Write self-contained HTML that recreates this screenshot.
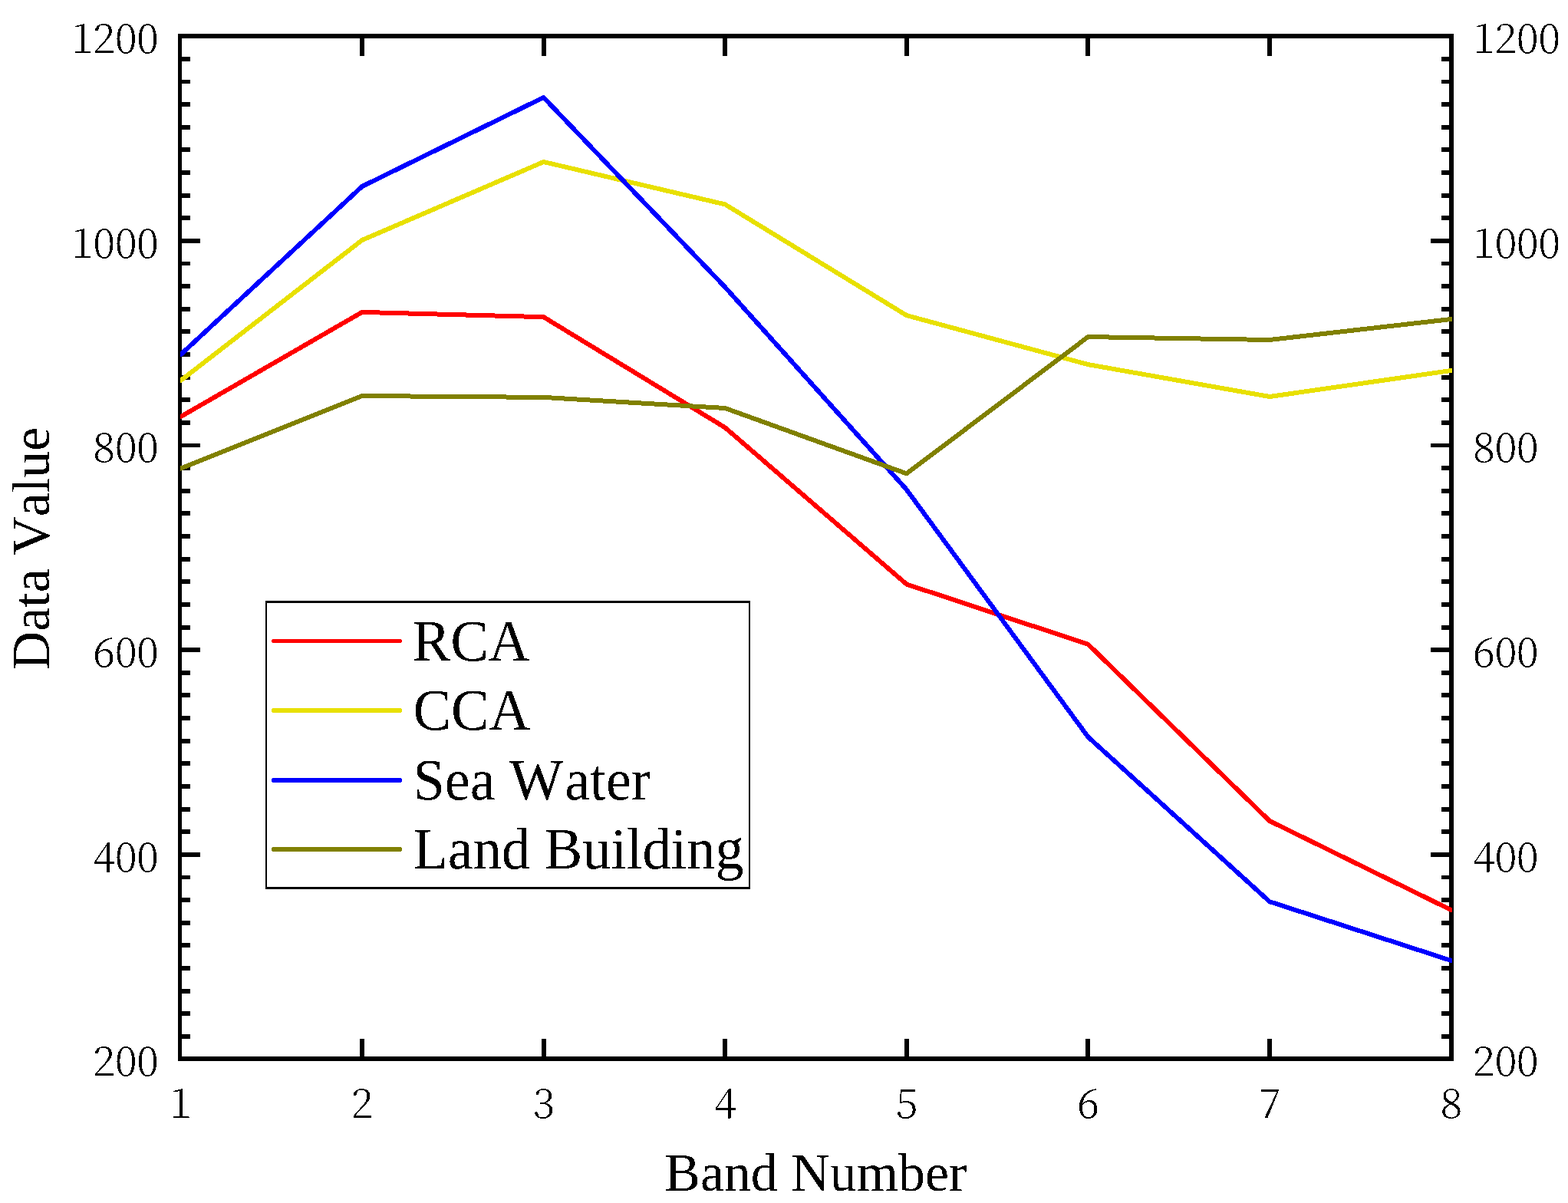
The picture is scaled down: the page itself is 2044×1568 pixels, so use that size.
<!DOCTYPE html>
<html lang="en"><head><meta charset="utf-8"><title>Spectral curves: Data Value vs Band Number</title>
<style>
html,body{margin:0;padding:0;background:#fff;}
body{width:2044px;height:1568px;}
svg{display:block;}
.ax{fill:#000;shape-rendering:crispEdges;}
.ser{fill:none;stroke-width:6;stroke-linejoin:round;stroke-linecap:round;shape-rendering:crispEdges;}
.tl{font-family:"Noto Serif CJK SC","Liberation Serif",serif;font-weight:300;font-size:53.4px;letter-spacing:-0.5px;fill:#000;}
.ttl{font-family:"Liberation Serif","Times New Roman",serif;font-size:70.4px;font-kerning:none;fill:#000;}
.lg{font-family:"Liberation Serif","Times New Roman",serif;font-size:76.5px;font-kerning:none;fill:#000;}
.lgl{shape-rendering:crispEdges;}
</style></head><body>
<svg width="2044" height="1568" viewBox="0 0 2044 1568">
<rect x="0" y="0" width="2044" height="1568" fill="#fff"/>
<g class="ax">
<rect x="232" y="44" width="5" height="1339"/>
<rect x="1889" y="44" width="6" height="1339"/>
<rect x="232" y="44" width="1663" height="6"/>
<rect x="232" y="1377" width="1663" height="6"/>
<rect x="237" y="74" width="11" height="6"/>
<rect x="1879" y="74" width="10" height="6"/>
<rect x="237" y="104" width="11" height="5"/>
<rect x="1879" y="104" width="10" height="5"/>
<rect x="237" y="133" width="11" height="6"/>
<rect x="1879" y="133" width="10" height="6"/>
<rect x="237" y="163" width="11" height="6"/>
<rect x="1879" y="163" width="10" height="6"/>
<rect x="237" y="192" width="11" height="6"/>
<rect x="1879" y="192" width="10" height="6"/>
<rect x="237" y="222" width="11" height="6"/>
<rect x="1879" y="222" width="10" height="6"/>
<rect x="237" y="252" width="11" height="6"/>
<rect x="1879" y="252" width="10" height="6"/>
<rect x="237" y="281" width="11" height="6"/>
<rect x="1879" y="281" width="10" height="6"/>
<rect x="237" y="311" width="24" height="6"/>
<rect x="1865" y="311" width="24" height="6"/>
<rect x="237" y="341" width="11" height="5"/>
<rect x="1879" y="341" width="10" height="5"/>
<rect x="237" y="370" width="11" height="6"/>
<rect x="1879" y="370" width="10" height="6"/>
<rect x="237" y="400" width="11" height="6"/>
<rect x="1879" y="400" width="10" height="6"/>
<rect x="237" y="429" width="11" height="6"/>
<rect x="1879" y="429" width="10" height="6"/>
<rect x="237" y="459" width="11" height="6"/>
<rect x="1879" y="459" width="10" height="6"/>
<rect x="237" y="489" width="11" height="6"/>
<rect x="1879" y="489" width="10" height="6"/>
<rect x="237" y="518" width="11" height="6"/>
<rect x="1879" y="518" width="10" height="6"/>
<rect x="237" y="548" width="11" height="6"/>
<rect x="1879" y="548" width="10" height="6"/>
<rect x="237" y="578" width="24" height="5"/>
<rect x="1865" y="578" width="24" height="5"/>
<rect x="237" y="607" width="11" height="6"/>
<rect x="1879" y="607" width="10" height="6"/>
<rect x="237" y="637" width="11" height="6"/>
<rect x="1879" y="637" width="10" height="6"/>
<rect x="237" y="666" width="11" height="6"/>
<rect x="1879" y="666" width="10" height="6"/>
<rect x="237" y="696" width="11" height="6"/>
<rect x="1879" y="696" width="10" height="6"/>
<rect x="237" y="726" width="11" height="6"/>
<rect x="1879" y="726" width="10" height="6"/>
<rect x="237" y="755" width="11" height="6"/>
<rect x="1879" y="755" width="10" height="6"/>
<rect x="237" y="785" width="11" height="6"/>
<rect x="1879" y="785" width="10" height="6"/>
<rect x="237" y="815" width="11" height="6"/>
<rect x="1879" y="815" width="10" height="6"/>
<rect x="237" y="844" width="24" height="6"/>
<rect x="1865" y="844" width="24" height="6"/>
<rect x="237" y="874" width="11" height="6"/>
<rect x="1879" y="874" width="10" height="6"/>
<rect x="237" y="903" width="11" height="6"/>
<rect x="1879" y="903" width="10" height="6"/>
<rect x="237" y="933" width="11" height="6"/>
<rect x="1879" y="933" width="10" height="6"/>
<rect x="237" y="963" width="11" height="6"/>
<rect x="1879" y="963" width="10" height="6"/>
<rect x="237" y="992" width="11" height="6"/>
<rect x="1879" y="992" width="10" height="6"/>
<rect x="237" y="1022" width="11" height="6"/>
<rect x="1879" y="1022" width="10" height="6"/>
<rect x="237" y="1052" width="11" height="6"/>
<rect x="1879" y="1052" width="10" height="6"/>
<rect x="237" y="1081" width="11" height="6"/>
<rect x="1879" y="1081" width="10" height="6"/>
<rect x="237" y="1111" width="24" height="6"/>
<rect x="1865" y="1111" width="24" height="6"/>
<rect x="237" y="1141" width="11" height="5"/>
<rect x="1879" y="1141" width="10" height="5"/>
<rect x="237" y="1170" width="11" height="6"/>
<rect x="1879" y="1170" width="10" height="6"/>
<rect x="237" y="1200" width="11" height="6"/>
<rect x="1879" y="1200" width="10" height="6"/>
<rect x="237" y="1229" width="11" height="6"/>
<rect x="1879" y="1229" width="10" height="6"/>
<rect x="237" y="1259" width="11" height="6"/>
<rect x="1879" y="1259" width="10" height="6"/>
<rect x="237" y="1289" width="11" height="6"/>
<rect x="1879" y="1289" width="10" height="6"/>
<rect x="237" y="1318" width="11" height="6"/>
<rect x="1879" y="1318" width="10" height="6"/>
<rect x="237" y="1348" width="11" height="6"/>
<rect x="1879" y="1348" width="10" height="6"/>
<rect x="469" y="50" width="6" height="23"/>
<rect x="469" y="1354" width="6" height="23"/>
<rect x="706" y="50" width="6" height="23"/>
<rect x="706" y="1354" width="6" height="23"/>
<rect x="942" y="50" width="6" height="23"/>
<rect x="942" y="1354" width="6" height="23"/>
<rect x="1179" y="50" width="6" height="23"/>
<rect x="1179" y="1354" width="6" height="23"/>
<rect x="1415" y="50" width="6" height="23"/>
<rect x="1415" y="1354" width="6" height="23"/>
<rect x="1652" y="50" width="6" height="23"/>
<rect x="1652" y="1354" width="6" height="23"/>
</g>
<defs><filter id="bilevel" x="-5%" y="-20%" width="110%" height="140%" color-interpolation-filters="sRGB"><feComponentTransfer><feFuncA type="discrete" tableValues="0 1"/></feComponentTransfer></filter><clipPath id="plotclip"><rect x="235" y="47" width="1658" height="1334"/></clipPath></defs>
<g class="ser" clip-path="url(#plotclip)">
<polyline stroke="#ff0000" points="235.4,543.2 472,406.9 708.6,413.2 945.2,557.3 1181.8,761.5 1418.4,839.8 1655,1070 1891.6,1186.05"/>
<polyline stroke="#e8e000" points="235.4,496.1 472,313 708.6,211 945.2,266.4 1181.8,411.1 1418.4,475.1 1655,517 1891.6,483"/>
<polyline stroke="#0000ff" points="235.4,462.3 472,243 708.6,127 945.2,374.3 1181.8,638.2 1418.4,960.6 1655,1175.2 1891.6,1252"/>
<polyline stroke="#808000" points="235.4,610.6 472,516 708.6,517.9 945.2,532 1181.8,617.3 1418.4,439.05 1655,443 1891.6,416"/>
</g>
<g class="tl" filter="url(#bilevel)">
<text x="206.5" y="69.08" text-anchor="end">1200</text>
<text x="1920" y="69.08" text-anchor="start">1200</text>
<text x="206.5" y="335.73" text-anchor="end">1000</text>
<text x="1920" y="335.73" text-anchor="start">1000</text>
<text x="206.5" y="602.38" text-anchor="end">800</text>
<text x="1920" y="602.38" text-anchor="start">800</text>
<text x="206.5" y="869.04" text-anchor="end">600</text>
<text x="1920" y="869.04" text-anchor="start">600</text>
<text x="206.5" y="1135.69" text-anchor="end">400</text>
<text x="1920" y="1135.69" text-anchor="start">400</text>
<text x="206.5" y="1402.34" text-anchor="end">200</text>
<text x="1920" y="1402.34" text-anchor="start">200</text>
<text x="235.4" y="1457.2" text-anchor="middle">1</text>
<text x="472" y="1457.2" text-anchor="middle">2</text>
<text x="708.6" y="1457.2" text-anchor="middle">3</text>
<text x="945.2" y="1457.2" text-anchor="middle">4</text>
<text x="1181.8" y="1457.2" text-anchor="middle">5</text>
<text x="1418.4" y="1457.2" text-anchor="middle">6</text>
<text x="1655" y="1457.2" text-anchor="middle">7</text>
<text x="1891.6" y="1457.2" text-anchor="middle">8</text>
</g>
<g filter="url(#bilevel)"><text class="ttl" transform="translate(1063.3 1551.5) scale(0.993 1)" text-anchor="middle">Band Number</text></g>
<g filter="url(#bilevel)"><text class="ttl" transform="translate(64.1 715) rotate(-90) scale(0.993 1)" text-anchor="middle">Data Value</text></g>
<rect class="ax" x="346" y="783" width="632" height="376"/>
<rect class="lgl" x="348" y="786" width="628" height="370" fill="#fff"/>
<g class="lgl" fill="#ff0000"><rect x="355" y="833" width="168" height="5"/><rect x="354" y="834" width="170" height="3"/></g>
<g filter="url(#bilevel)"><text class="lg" transform="translate(537.7 861) scale(0.971 1)">RCA</text></g>
<g class="lgl" fill="#e8e000"><rect x="355" y="923" width="168" height="6"/><rect x="354" y="924" width="170" height="4"/></g>
<g filter="url(#bilevel)"><text class="lg" transform="translate(538.5 951.3) scale(0.971 1)">CCA</text></g>
<g class="lgl" fill="#0000ff"><rect x="355" y="1014" width="168" height="6"/><rect x="354" y="1015" width="170" height="4"/></g>
<g filter="url(#bilevel)"><text class="lg" transform="translate(538.5 1041.5) scale(0.971 1)" dx="0 0 0 0 0 2">Sea Water</text></g>
<g class="lgl" fill="#808000"><rect x="355" y="1104" width="168" height="6"/><rect x="354" y="1105" width="170" height="4"/></g>
<g filter="url(#bilevel)"><text class="lg" transform="translate(538.5 1131.7) scale(0.971 1)">Land Building</text></g>
</svg>
</body></html>
